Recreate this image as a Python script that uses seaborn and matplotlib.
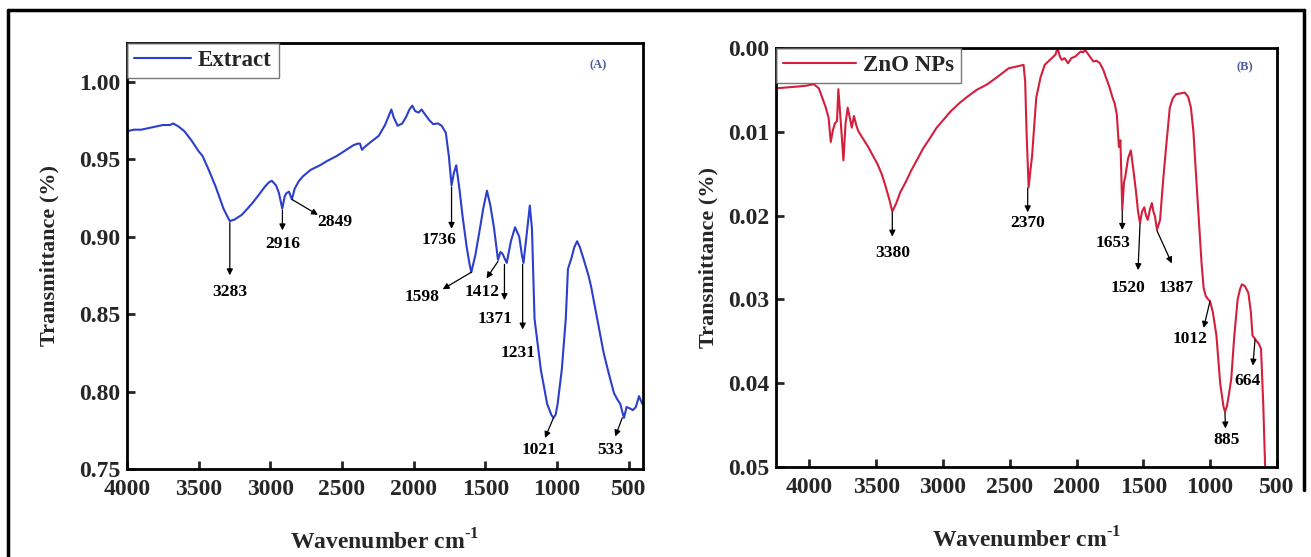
import numpy as np
import pandas as pd
import seaborn as sns
import matplotlib.pyplot as plt
from matplotlib.lines import Line2D

# ---- data ----
extract_wn = [4000, 3950, 3900, 3850, 3800, 3750, 3700, 3678, 3640, 3600, 3550, 3500, 3473,
              3430, 3385, 3350, 3327, 3300, 3283, 3250, 3200, 3150, 3122, 3080, 3040, 3010,
              2990, 2960, 2940, 2917, 2900, 2888, 2870, 2850, 2830, 2800, 2771, 2720, 2654,
              2600, 2537, 2470, 2420, 2390, 2375, 2361, 2340, 2300, 2244, 2200, 2156, 2140,
              2112, 2080, 2054, 2030, 2010, 1990, 1966, 1945, 1922, 1890, 1864, 1830, 1805,
              1776, 1755, 1736, 1720, 1703, 1680, 1659, 1630, 1610, 1598, 1570, 1542, 1515,
              1489, 1465, 1439, 1412, 1395, 1381, 1351, 1322, 1293, 1264, 1245, 1234, 1210,
              1190, 1175, 1157, 1113, 1069, 1040, 1025, 1010, 996, 967, 939, 924, 900, 880,
              860, 840, 810, 781, 763, 720, 675, 640, 603, 580, 559, 545, 533, 515, 490,
              471, 450, 428, 405]
extract_t = [0.968, 0.969, 0.969, 0.970, 0.971, 0.972, 0.972, 0.973, 0.971, 0.968, 0.962, 0.955, 0.952,
             0.943, 0.933, 0.924, 0.918, 0.913, 0.910, 0.911, 0.914, 0.919, 0.922, 0.927, 0.932, 0.935,
             0.936, 0.933, 0.928, 0.918, 0.926, 0.928, 0.929, 0.924, 0.931, 0.936, 0.939, 0.943, 0.946,
             0.949, 0.952, 0.956, 0.959, 0.960, 0.960, 0.956, 0.958, 0.961, 0.965, 0.972, 0.982, 0.977,
             0.9715, 0.973, 0.977, 0.982, 0.9845, 0.981, 0.980, 0.982, 0.979, 0.975, 0.9726, 0.973, 0.9715,
             0.967, 0.952, 0.933, 0.941, 0.946, 0.930, 0.913, 0.893, 0.882, 0.877, 0.888, 0.903, 0.918,
             0.9296, 0.920, 0.905, 0.885, 0.890, 0.889, 0.883, 0.897, 0.906, 0.900, 0.888, 0.883, 0.903,
             0.920, 0.905, 0.847, 0.814, 0.792, 0.785, 0.783, 0.785, 0.792, 0.814, 0.847, 0.879, 0.886,
             0.893, 0.897, 0.893, 0.884, 0.875, 0.868, 0.847, 0.825, 0.812, 0.799, 0.795, 0.792, 0.787,
             0.783, 0.790, 0.789, 0.788, 0.790, 0.797, 0.792]

zno_wn = [4254, 4180, 4100, 4030, 3968, 3930, 3905, 3880, 3857, 3841, 3825, 3810, 3794, 3784,
          3765, 3746, 3730, 3714, 3700, 3683, 3667, 3650, 3635, 3600, 3560, 3520, 3492, 3460,
          3430, 3400, 3380, 3350, 3320, 3280, 3238, 3190, 3150, 3100, 3048, 3000, 2940, 2880,
          2826, 2750, 2667, 2590, 2508, 2450, 2397, 2385, 2375, 2359, 2345, 2334, 2302, 2270,
          2239, 2200, 2159, 2143, 2125, 2112, 2090, 2064, 2040, 2010, 1969, 1950, 1937, 1910,
          1874, 1850, 1826, 1800, 1778, 1755, 1731, 1715, 1699, 1683, 1672, 1658, 1645, 1636,
          1615, 1594, 1575, 1556, 1540, 1525, 1510, 1493, 1480, 1467, 1450, 1436, 1425, 1413,
          1398, 1375, 1350, 1325, 1302, 1280, 1255, 1220, 1191, 1165, 1144, 1125, 1110, 1095,
          1080, 1065, 1049, 1033, 1015, 1001, 980, 953, 925, 900, 889, 875, 860, 842, 820, 794,
          775, 762, 740, 714, 695, 683, 664, 651, 635, 619, 603, 590, 585]
zno_t = [0.0048, 0.0047, 0.0046, 0.0045, 0.0043, 0.0048, 0.0059, 0.0070, 0.0083, 0.0112, 0.0098,
         0.0090, 0.0087, 0.0049, 0.0090, 0.0134, 0.0090, 0.0071, 0.0082, 0.0095, 0.0081, 0.0092,
         0.0099, 0.0108, 0.0118, 0.0130, 0.0138, 0.0150, 0.0165, 0.0182, 0.0195, 0.0185, 0.0172,
         0.0160, 0.0146, 0.0132, 0.0120, 0.0108, 0.0095, 0.0086, 0.0075, 0.0066, 0.0059, 0.0050,
         0.0043, 0.0034, 0.0024, 0.0022, 0.0020, 0.0040, 0.0099, 0.0166, 0.0145, 0.0130, 0.0059,
         0.0035, 0.0020, 0.0014, 0.0008, 0.0000, 0.0010, 0.0014, 0.0012, 0.0018, 0.0012, 0.0010,
         0.0004, 0.0005, 0.0002, 0.0008, 0.0016, 0.0015, 0.0018, 0.0026, 0.0036, 0.0046, 0.0059,
         0.0066, 0.0079, 0.0118, 0.0110, 0.0193, 0.0160, 0.0154, 0.0132, 0.0122, 0.0145, 0.0170,
         0.0195, 0.0209, 0.0195, 0.0190, 0.0200, 0.0205, 0.0192, 0.0185, 0.0195, 0.0201, 0.0217,
         0.0205, 0.0154, 0.0110, 0.0071, 0.0060, 0.0055, 0.0054, 0.0053, 0.0058, 0.0071, 0.0100,
         0.0140, 0.0180, 0.0217, 0.0255, 0.0286, 0.0296, 0.0300, 0.0302, 0.0315, 0.0343, 0.0400,
         0.0428, 0.0434, 0.0428, 0.0414, 0.0395, 0.0345, 0.0300, 0.0287, 0.0282, 0.0284, 0.0292,
         0.0315, 0.0343, 0.0347, 0.0350, 0.0353, 0.0359, 0.0422, 0.0490, 0.0520]

# peak labels: (label, tail on curve, arrow head, text position)
extract_peaks = [("3283", (3283, 0.909), (3283, 0.875), (3283, 0.864)),
                 ("2916", (2916, 0.917), (2916, 0.904), (2916, 0.895)),
                 ("2849", (2850, 0.924), (2668, 0.914), (2551, 0.9095)),
                 ("1736", (1736, 0.932), (1736, 0.905), (1820, 0.898)),
                 ("1598", (1598, 0.877), (1798, 0.866), (1944, 0.861)),
                 ("1412", (1412, 0.884), (1492, 0.873), (1521, 0.864)),
                 ("1371", (1367, 0.882), (1367, 0.859), (1434, 0.847)),
                 ("1231", (1240, 0.882), (1240, 0.840), (1273, 0.825)),
                 ("1021", (1025, 0.783), (1084, 0.770), (1127, 0.762)),
                 ("533", (545, 0.783), (594, 0.771), (626, 0.762))]
zno_peaks = [("3380", (3380, 0.0196), (3380, 0.0225), (3380, 0.0245)),
             ("2370", (2366, 0.0167), (2366, 0.0196), (2366, 0.0209)),
             ("1653", (1658, 0.0194), (1658, 0.0217), (1731, 0.0233)),
             ("1520", (1525, 0.0210), (1540, 0.0265), (1613, 0.0286)),
             ("1387", (1398, 0.0218), (1287, 0.0257), (1255, 0.0286)),
             ("1012", (1001, 0.0302), (1049, 0.0334), (1150, 0.0347)),
             ("885", (889, 0.0435), (885, 0.0454), (874, 0.0468)),
             ("664", (664, 0.0348), (680, 0.0379), (718, 0.0397))]

sns.set_style("ticks")
plt.rcParams['font.family'] = ['Liberation Serif', 'DejaVu Serif']
plt.rcParams['font.weight'] = 'bold'
plt.rcParams['axes.labelweight'] = 'bold'
plt.rcParams['mathtext.fontset'] = 'custom'
plt.rcParams['mathtext.rm'] = 'Liberation Serif:bold'
plt.rcParams['mathtext.bf'] = 'Liberation Serif:bold'

fig = plt.figure(figsize=(13.11, 5.57), dpi=100)
ax1 = fig.add_axes([0.0969, 0.158, 0.3936, 0.765])
ax2 = fig.add_axes([0.592, 0.1616, 0.382, 0.752])

df1 = pd.DataFrame({"wn": extract_wn, "t": extract_t})
df2 = pd.DataFrame({"wn": zno_wn, "t": zno_t})
sns.lineplot(data=df1, x="wn", y="t", ax=ax1, color="#2b3fcc", lw=1.5, label="Extract", estimator=None)
sns.lineplot(data=df2, x="wn", y="t", ax=ax2, color="#d41f3c", lw=1.5, label="ZnO NPs", estimator=None)

ax1.set_xlim(4000, 400)
ax1.set_ylim(0.75, 1.025)
ax1.set_xticks([4000, 3500, 3000, 2500, 2000, 1500, 1000, 500])
ax1.set_yticks([0.75, 0.80, 0.85, 0.90, 0.95, 1.00])
ax1.yaxis.set_major_formatter(plt.FormatStrFormatter('%.2f'))

ax2.set_xlim(4250, 500)
ax2.set_ylim(0.05, 0.0)
ax2.set_xticks([4000, 3500, 3000, 2500, 2000, 1500, 1000, 500])
ax2.set_yticks([0.00, 0.01, 0.02, 0.03, 0.04, 0.05])
ax2.yaxis.set_major_formatter(plt.FormatStrFormatter('%.2f'))

for ax, peaks, tag, tagpos, ypad, hlen in [(ax1, extract_peaks, "(A)", (0.913, 0.948), 14, 2.5),
                                           (ax2, zno_peaks, "(B)", (0.936, 0.955), 7, 3.2)]:
    for s in ax.spines.values():
        s.set_visible(True)
        s.set_linewidth(2)
        s.set_color("black")
    ax.tick_params(direction="in", length=6, width=2, labelsize=17)
    ax.tick_params(axis="x", pad=7)
    ax.tick_params(axis="y", pad=5)
    for lab in ax.get_xticklabels() + ax.get_yticklabels():
        lab.set_fontweight("bold")
    ax.set_xlabel(r"Wavenumber cm$^{\text{-1}}$", fontsize=17, labelpad=21)
    ax.set_ylabel("Transmittance (%)", fontsize=16, labelpad=ypad)
    ax.text(tagpos[0], tagpos[1], tag, transform=ax.transAxes, color="#4b5ba0", fontsize=9,
            ha="center", va="center")
    for lab, tail, head, tp in peaks:
        ax.annotate("", xy=head, xytext=tail,
                    arrowprops=dict(arrowstyle="-|>", color="black", lw=0.9,
                                    mutation_scale=9, shrinkA=0, shrinkB=0))
        ax.text(tp[0], tp[1], lab, fontsize=12.5, ha="center", va="center", color="black")
    leg = ax.legend(loc="upper left", borderaxespad=0, fontsize=16.5, handlelength=hlen,
                    frameon=True, fancybox=False, borderpad=0.3, handletextpad=0.3)
    leg.get_frame().set_edgecolor("#555555")
    leg.get_frame().set_linewidth(1)
    for t in leg.get_texts():
        t.set_fontweight("bold")

# outer frame of the figure
fig.add_artist(Line2D([8 / 1311, 8 / 1311], [0, 1 - 10 / 557], color="black", lw=2.5))
fig.add_artist(Line2D([8 / 1311, 1304 / 1311], [1 - 10 / 557, 1 - 10 / 557], color="black", lw=2.5))
fig.add_artist(Line2D([1304 / 1311, 1304 / 1311], [0.12, 1 - 10 / 557], color="black", lw=2.5))

fig.savefig("out.png", dpi=100)
